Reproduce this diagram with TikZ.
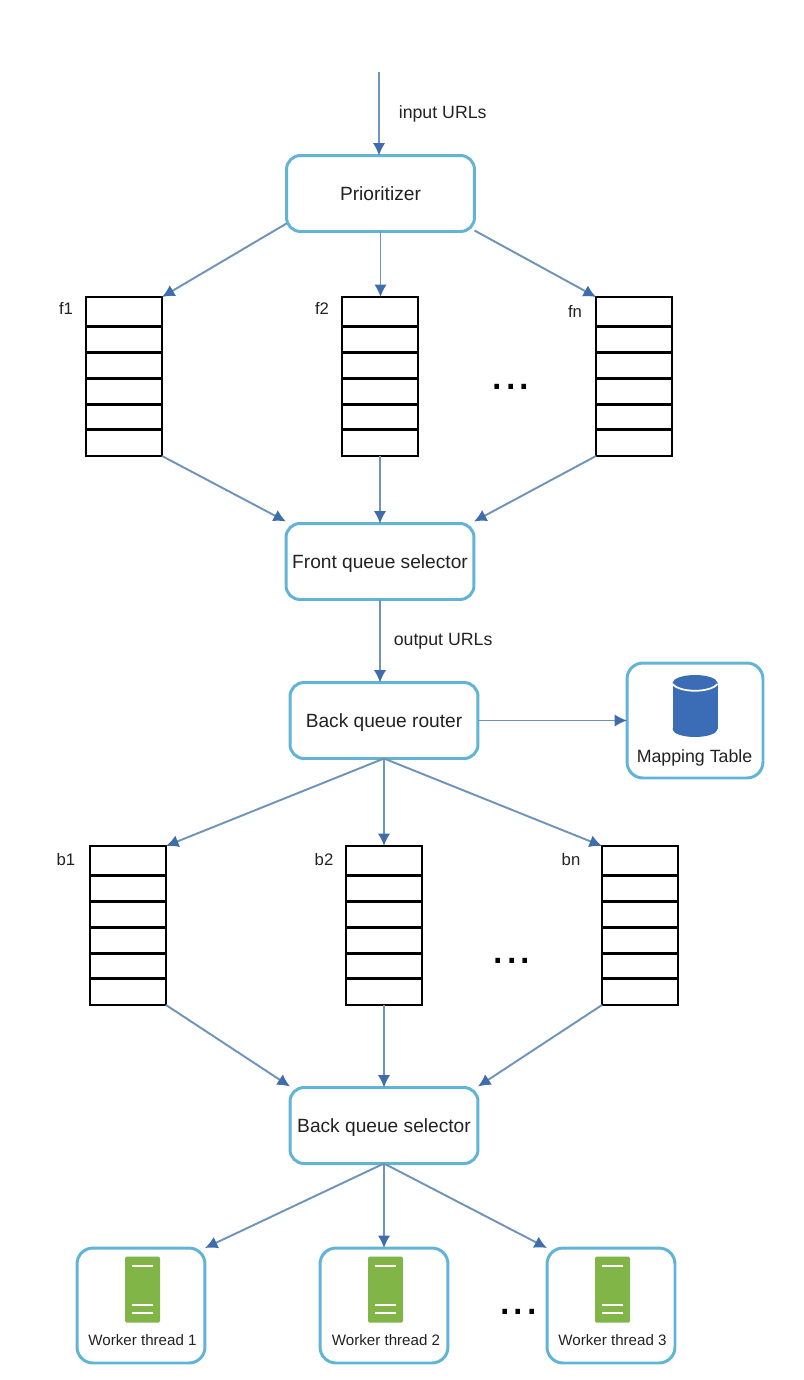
\documentclass[tikz,border=0pt]{standalone}
\usepackage{fontspec}
\setmainfont{Liberation Sans}
\usetikzlibrary{arrows.meta}

\definecolor{boxline}{HTML}{62B4D6}
\definecolor{arrowline}{HTML}{6F93B9}
\definecolor{arrowtip}{HTML}{3F6CAB}
\definecolor{dbblue}{HTML}{3A6DB5}
\definecolor{srvgreen}{HTML}{82B548}
\definecolor{labeltext}{HTML}{222222}

\tikzset{
  procbox/.style={draw=boxline, line width=1.7pt, rounded corners=0.28cm, fill=white, outer sep=0pt,
    minimum width=3.76cm, minimum height=1.52cm, text=labeltext, text height=8pt, text depth=0pt,
    font=\fontsize{10.9}{12}\selectfont},
  iconbox/.style={draw=boxline, line width=1.7pt, rounded corners=0.32cm, fill=white, outer sep=0pt},
  queuebox/.style={draw=black, line width=1.5pt, minimum width=1.52cm, minimum height=3.18cm, inner sep=0pt, outer sep=0pt},
  tag/.style={text=labeltext, font=\fontsize{10.1}{12}\selectfont},
  qtag/.style={text=labeltext, font=\fontsize{9.5}{12}\selectfont},
  flow/.style={draw=arrowline, line width=1.1pt, -{Latex[length=0.25cm,width=0.25cm,color=arrowtip]}},
  more/.style={font=\fontsize{27.5}{28}\selectfont, text=black, inner sep=0pt}
}

%One queue: box named #1 centred at (#2,#3), first row a bit taller
\newcommand{\queue}[3]{
  \node[queuebox] (#1) at (#2,#3) {};
  \foreach \row in {-50,-24,2,28,53}
    \draw[line width=1.5pt] ([yshift=-\row*0.02cm]#1.west) -- ([yshift=-\row*0.02cm]#1.east);
}

%Server icon centred at (#1,#2)
\newcommand{\server}[2]{
  \begin{scope}[shift={(#1,#2)}]
    \fill[srvgreen, rounded corners=0.03cm] (-17.5,-33) rectangle (17.5,33);
    \draw[white, line width=1.6pt] (-10.5,-23.5) -- (10.5,-23.5);
    \draw[white, line width=1.6pt] (-10.5,15.5) -- (10.5,15.5);
    \draw[white, line width=1.6pt] (-10.5,23.5) -- (10.5,23.5);
  \end{scope}
}

\begin{document}
\begin{tikzpicture}[x=0.02cm, y=-0.02cm]
\useasboundingbox (0,0) rectangle (804,1380);

%Draw Main Boxes
\node[procbox] (prio) at (380.5,193.5) {Prioritizer};
\node[procbox] (front) at (380,561.5) {Front queue selector};
\node[procbox] (router) at (384,720.5) {Back queue router};
\node[procbox] (select) at (384,1125.5) {Back queue selector};

%Draw Front Queues
\queue{f1}{124}{376.5}
\queue{f2}{380}{376.5}
\queue{fn}{634}{376.5}
\node[qtag] (f1tag) at (66,308) {f1};
\node[qtag] (f2tag) at (322,308) {f2};
\node[qtag] (fntag) at (575,311) {fn};
\node[more] (fdots) at (511,387) {...};

%Draw Back Queues
\queue{b1}{128}{925.5}
\queue{b2}{384}{925.5}
\queue{bn}{640}{925.5}
\node[qtag] (b1tag) at (66,860) {b1};
\node[qtag] (b2tag) at (324,860) {b2};
\node[qtag] (bntag) at (571,860) {bn};
\node[more] (bdots) at (512,961) {...};

%Draw Mapping Table
\node[iconbox, minimum width=2.72cm, minimum height=2.3cm] (mapping) at (695,720.5) {};
\fill[dbblue] (672.5,683) rectangle (717.5,729);
\fill[dbblue] (695,729) ellipse [x radius=22.5, y radius=8];
\fill[dbblue] (695,683) ellipse [x radius=22.5, y radius=8];
\draw[white, line width=1pt] (672.5,684) .. controls (680,693) and (710,693) .. (717.5,684);
\node[tag] (maptext) at (694.5,758) {Mapping Table};

%Draw Workers
\node[iconbox, minimum width=2.56cm, minimum height=2.3cm] (w1) at (141,1305.5) {};
\node[iconbox, minimum width=2.56cm, minimum height=2.3cm] (w2) at (384,1305.5) {};
\node[iconbox, minimum width=2.56cm, minimum height=2.3cm] (w3) at (611,1305.5) {};
\server{142.5}{1289.5}
\server{385.5}{1289.5}
\server{612.5}{1289.5}
\node[tag, font=\fontsize{8.6}{10}\selectfont] (w1text) at (142.5,1340) {Worker thread 1};
\node[tag, font=\fontsize{8.6}{10}\selectfont] (w2text) at (386,1340) {Worker thread 2};
\node[tag, font=\fontsize{8.6}{10}\selectfont] (w3text) at (612.5,1340) {Worker thread 3};
\node[more] (wdots) at (518.5,1312) {...};

%Draw Input Arrow
\coordinate (in) at ([xshift=-0.03cm]prio.north |- 0,72);
\draw[flow] (in) -- (in |- prio.north) node[midway, right=0.26cm, tag] {input URLs};

%Draw Arrows Through Front Queues
\draw[flow] ([yshift=0.16cm]prio.south west) -- (f1.north east);
\draw[flow] (prio.south) -- (f2.north -| prio.south);
\draw[flow] ([yshift=0.02cm]prio.south east) -- (fn.north west);
\draw[flow] (f1.south east) -- ([yshift=0.04cm]front.north west);
\draw[flow] (f2.south) -- (front.north);
\draw[flow] (fn.south west) -- ([yshift=0.04cm]front.north east);
\draw[flow] (front.south) -- (front.south |- router.north) node[midway, right=0.14cm, tag] {output URLs};

%Draw Arrows Through Back Queues
\draw[flow] (router.east) -- (mapping.west);
\draw[flow] (router.south) -- (b1.north east);
\draw[flow] (router.south) -- (b2.north);
\draw[flow] (router.south) -- (bn.north west);
\draw[flow] (b1.south east) -- ([yshift=0.02cm]select.north west);
\draw[flow] (b2.south) -- (select.north);
\draw[flow] (bn.south west) -- ([yshift=0.02cm]select.north east);

%Draw Arrows To Workers
\draw[flow] (select.south) -- (w1.north east);
\draw[flow] (select.south) -- (w2.north);
\draw[flow] (select.south) -- (w3.north west);

\end{tikzpicture}
\end{document}
